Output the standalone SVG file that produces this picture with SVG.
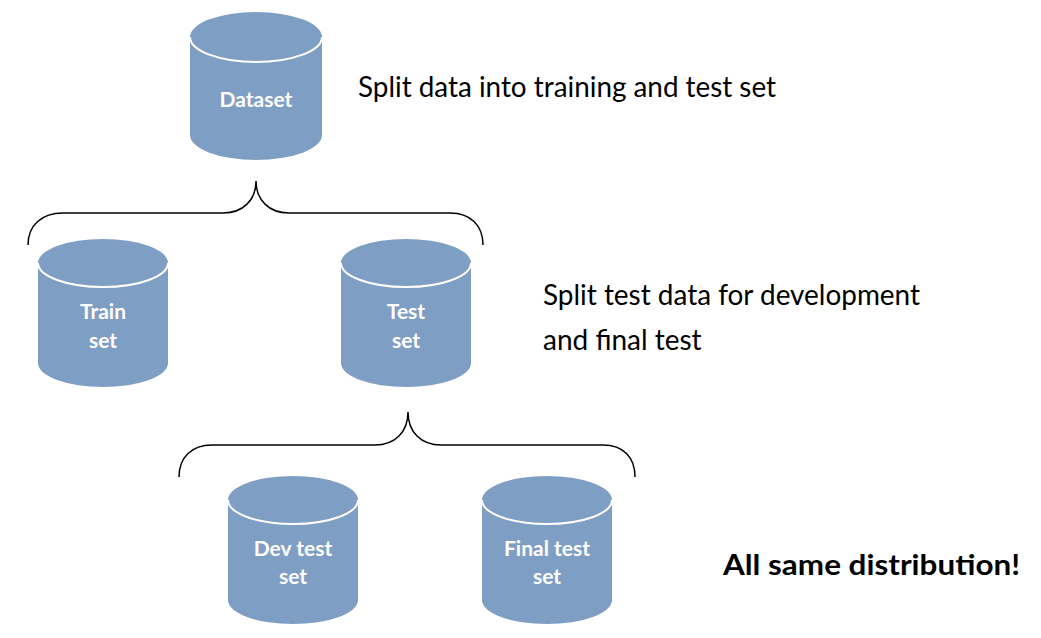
<svg xmlns="http://www.w3.org/2000/svg" width="1041" height="638" viewBox="0 0 1041 638">
<style>
.body{fill:#7F9EC4;stroke:none}
.rim{fill:none;stroke:#ffffff;stroke-width:2}
.lbl{font-family:Lato,"Open Sans",sans-serif;font-weight:bold;font-size:21px;fill:#ffffff;text-anchor:middle}
.note{font-family:Lato,"Open Sans",sans-serif;font-size:28px;fill:#000000}
.bold{font-weight:bold}
.brace{fill:none;stroke:#000000;stroke-width:1.5}
</style>
<rect width="1041" height="638" fill="#ffffff"/>
<g id="connectors">
<path class="brace" d="M28,245 C28,225 42,213 63,213 L223,213 C243,213 256,200 256,181 C256,200 269,213 289,213 L450,213 C470,213 483,225 483,245"/>
<path class="brace" d="M179,477 C179,457 192,445 212,445 L375,445 C395,445 408,432 408,412 C408,432 421,445 441,445 L603,445 C623,445 635,457 635,477"/>
</g>
<g id="dataset">
<path class="body" d="M190,37 A66,25 0 0 1 322,37 L322,135 A66,25 0 0 1 190,135 Z"/>
<path class="rim" d="M190,37 A66,25 0 0 0 322,37"/>
<text class="lbl" x="256" y="107">Dataset</text>
</g>
<g id="train">
<path class="body" d="M38,263 A65,24 0 0 1 168,263 L168,363 A65,24 0 0 1 38,363 Z"/>
<path class="rim" d="M38,263 A65,24 0 0 0 168,263"/>
<text class="lbl" x="103" y="319">Train</text>
<text class="lbl" x="103" y="348">set</text>
</g>
<g id="test">
<path class="body" d="M341,263 A65,24 0 0 1 471,263 L471,363 A65,24 0 0 1 341,363 Z"/>
<path class="rim" d="M341,263 A65,24 0 0 0 471,263"/>
<text class="lbl" x="406" y="319">Test</text>
<text class="lbl" x="406" y="348">set</text>
</g>
<g id="devtest">
<path class="body" d="M228,500 A65,24 0 0 1 358,500 L358,600 A65,24 0 0 1 228,600 Z"/>
<path class="rim" d="M228,500 A65,24 0 0 0 358,500"/>
<text class="lbl" x="293" y="556">Dev test</text>
<text class="lbl" x="293" y="584">set</text>
</g>
<g id="finaltest">
<path class="body" d="M482,500 A65,24 0 0 1 612,500 L612,600 A65,24 0 0 1 482,600 Z"/>
<path class="rim" d="M482,500 A65,24 0 0 0 612,500"/>
<text class="lbl" x="547" y="556">Final test</text>
<text class="lbl" x="547" y="584">set</text>
</g>
<g id="notes">
<text class="note" x="358" y="97" textLength="418" lengthAdjust="spacingAndGlyphs">Split data into training and test set</text>
<text class="note" x="543" y="305" textLength="377" lengthAdjust="spacingAndGlyphs">Split test data for development</text>
<text class="note" x="543" y="350">and final test</text>
<text class="note bold" x="723" y="575" textLength="297" lengthAdjust="spacingAndGlyphs">All same distribution!</text>
</g>
</svg>
